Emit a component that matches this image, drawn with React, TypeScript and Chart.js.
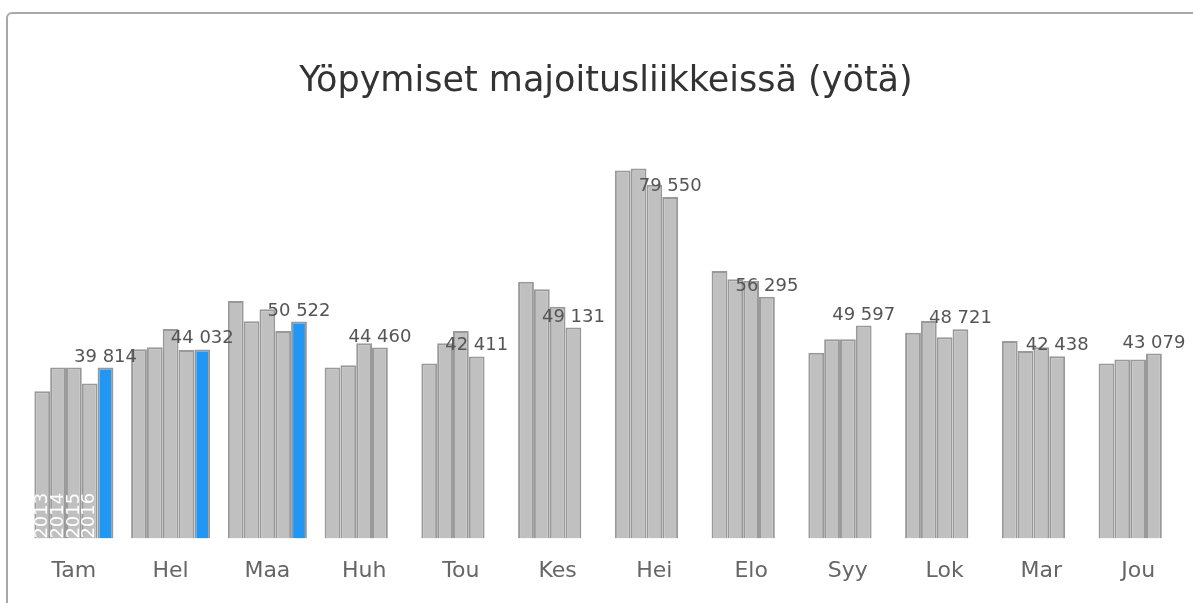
import React, { useEffect, useRef } from "react";
import { Chart, registerables } from "chart.js";

Chart.register(...registerables);

const months = ["Tam", "Hel", "Maa", "Huh", "Tou", "Kes", "Hei", "Elo", "Syy", "Lok", "Mar", "Jou"];
const years = ["2013", "2014", "2015", "2016", "2017"];
const v2013 = [34300, 44060, 55310, 39860, 40790, 59810, 85690, 62310, 43260, 47930, 45990, 40790];
const v2014 = [39860, 44520, 50580, 40330, 45450, 58040, 86150, 60370, 46390, 50650, 43660, 41720];
const v2015 = [39860, 48790, 53380, 45450, 48320, 53990, 82350, 60050, 46390, 46850, 44520, 41720];
const v2016 = [36130, 43890, 48320, 44460, 42411, 49131, 79550, 56295, 49597, 48721, 42438, 43079];
const v2017 = [39814, 44032, 50522, null, null, null, null, null, null, null, null, null];
const seriesValues = [v2013, v2014, v2015, v2016, v2017];
const seriesColors = ["#c0c0c0", "#c0c0c0", "#c0c0c0", "#c0c0c0", "#2196f3"];
const titleText = "Yöpymiset majoitusliikkeissä (yötä)";

const FONT = "'DejaVu Sans', sans-serif";

function fmt(v: number): string {
  return String(v).replace(/\B(?=(\d{3})+(?!\d))/g, " ");
}

const labelPlugin = {
  id: "labelPlugin",
  afterDatasetsDraw(chart: any) {
    const ctx = chart.ctx;
    ctx.save();
    // value labels on the latest available year
    ctx.font = `18px ${FONT}`;
    ctx.fillStyle = "#555555";
    ctx.textAlign = "center";
    ctx.textBaseline = "alphabetic";
    for (let i = 0; i < months.length; i++) {
      let d = -1;
      for (let k = seriesValues.length - 1; k >= 0; k--) {
        if (seriesValues[k][i] != null) { d = k; break; }
      }
      if (d < 0) continue;
      const el = chart.getDatasetMeta(d).data[i];
      ctx.fillText(fmt(seriesValues[d][i] as number), el.x, el.y - 6);
    }
    // year labels inside first group
    ctx.fillStyle = "#ffffff";
    ctx.textAlign = "left";
    ctx.textBaseline = "middle";
    for (let d = 0; d < 4; d++) {
      const el = chart.getDatasetMeta(d).data[0];
      ctx.save();
      ctx.translate(el.x, el.base);
      ctx.rotate(-Math.PI / 2);
      ctx.fillText(years[d], 0, 0);
      ctx.restore();
    }
    ctx.restore();
  },
};

export default function App() {
  const ref = useRef<HTMLCanvasElement | null>(null);
  useEffect(() => {
    if (!ref.current) return;
    const chart = new Chart(ref.current, {
      type: "bar",
      data: {
        labels: months,
        datasets: seriesValues.map((vals, k) => ({
          label: years[k],
          data: vals,
          backgroundColor: seriesColors[k],
          borderColor: "#999999",
          borderWidth: 2,
          barPercentage: 1,
          categoryPercentage: 0.817,
        })),
      },
      options: {
        animation: false,
        responsive: false,
        layout: { padding: { left: 17.5, right: 17.5, top: 14, bottom: 0 } },
        plugins: {
          legend: { display: false },
          tooltip: { enabled: false },
          title: {
            display: true,
            text: titleText,
            color: "#333333",
            font: { family: FONT, size: 35, weight: "normal" },
            padding: { top: 46.5, bottom: 49.5 },
          },
        },
        scales: {
          x: {
            grid: { display: false, drawTicks: false },
            border: { display: false },
            ticks: { color: "#666666", font: { family: FONT, size: 22 }, padding: 19 },
          },
          y: { display: false, min: 0, max: 90000 },
        },
      },
      plugins: [labelPlugin],
    });
    return () => chart.destroy();
  }, []);
  return (
    <div style={{ position: "absolute", left: 0, top: 0, width: 1193, height: 603, overflow: "hidden", background: "#fff" }}>
      <div
        style={{
          position: "absolute",
          left: 6,
          top: 12,
          width: 1300,
          height: 800,
          border: "2px solid #a8a8a8",
          borderRadius: 6,
        }}
      />
      <canvas
        ref={ref}
        width={1196}
        height={603}
        style={{ position: "absolute", left: 8, top: 0, width: 1196, height: 603 }}
      />
    </div>
  );
}
